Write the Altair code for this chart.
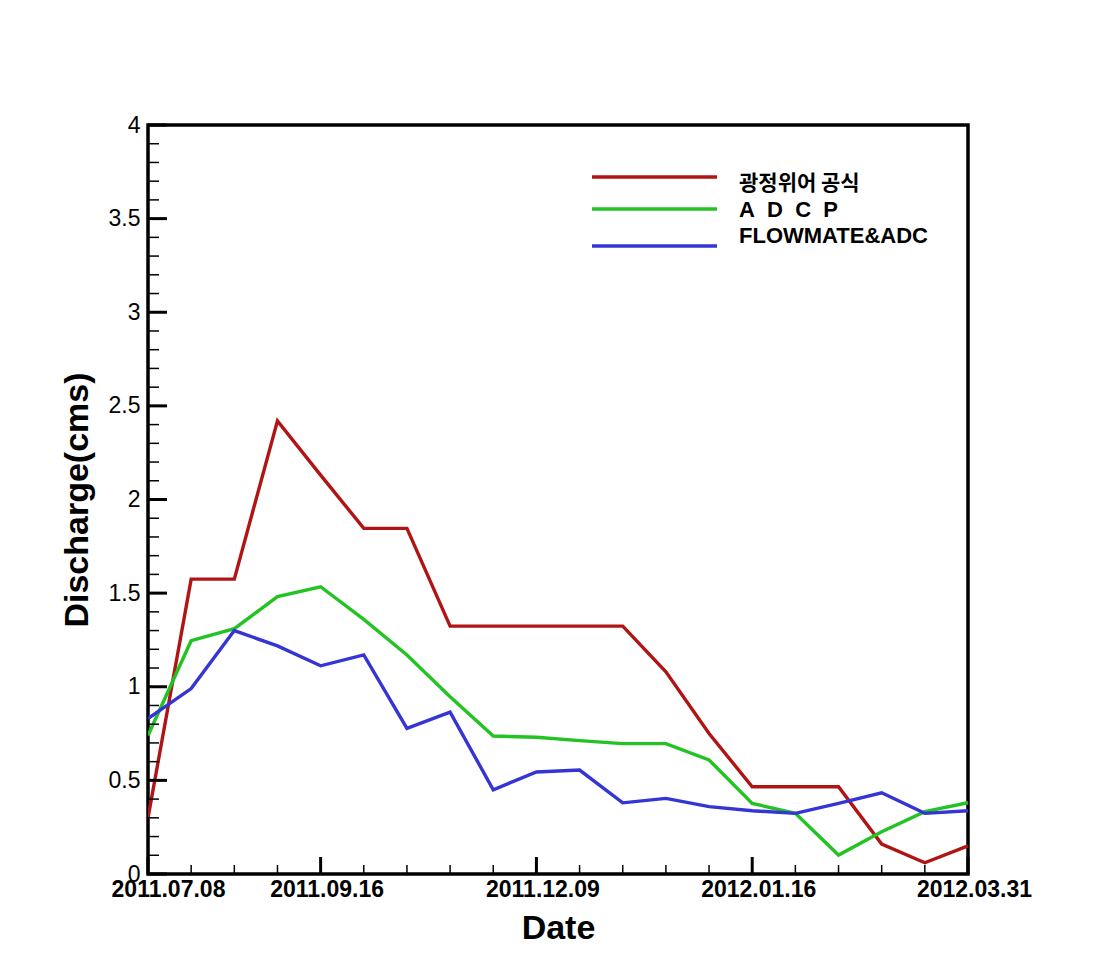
import altair as alt
import pandas as pd
import numpy as np

# ---- data ----
idx = list(range(20))
red = [0.30, 1.575, 1.575, 2.42, 2.13, 1.846, 1.846, 1.324, 1.324, 1.324, 1.324, 1.324,
       1.08, 0.75, 0.466, 0.466, 0.466, 0.16, 0.06, 0.15]
green = [0.74, 1.246, 1.31, 1.481, 1.534, 1.36, 1.17, 0.947, 0.737, 0.73, 0.712, 0.696,
         0.696, 0.609, 0.377, 0.324, 0.101, 0.226, 0.333, 0.381]
blue = [0.83, 0.99, 1.30, 1.218, 1.112, 1.17, 0.778, 0.864, 0.45, 0.545, 0.555, 0.38,
        0.404, 0.36, 0.338, 0.324, 0.377, 0.434, 0.324, 0.338]
series_names = ["광정위어 공식", "A\u00a0\u00a0D\u00a0\u00a0C\u00a0\u00a0P", "FLOWMATE&ADC"]
series_colors = ["#B01414", "#22C322", "#3535D5"]

x_major = [0, 4, 9, 14, 19]
x_labels = ["2011.07.08", "2011.09.16", "2011.12.09", "2012.01.16", "2012.03.31"]
x_minor = [i for i in idx if i not in x_major]
y_major = [round(v, 1) for v in np.arange(0, 4.01, 0.5)]
y_minor = [round(v, 1) for v in np.arange(0.1, 4.0, 0.1) if round(v * 10) % 5 != 0]

W, H = 820, 749
FONT = "Liberation Sans"

df = pd.DataFrame({
    "i": idx * 3,
    "v": red + green + blue,
    "s": [series_names[0]] * 20 + [series_names[1]] * 20 + [series_names[2]] * 20,
})

label_map = "{" + ", ".join(f"'{k}': '{l}'" for k, l in zip(x_major, x_labels)) + "}"

xscale = alt.Scale(domain=[0, 19], nice=False, zero=False)
yscale = alt.Scale(domain=[0, 4], nice=False)

lines = alt.Chart(df).mark_line(strokeWidth=3.4, clip=True).encode(
    x=alt.X("i:Q", scale=xscale, title="Date",
            axis=alt.Axis(values=x_major, labelExpr=f"{label_map}[datum.value]",
                          ticks=False, domain=False, grid=False, labelFont=FONT,
                          labelFontWeight="bold", labelFontSize=23, labelColor="black",
                          labelPadding=4, labelFlush=False, labelOverlap=False,
                          labelOffset=alt.ConditionalAxisNumber(
                              condition={"test": "datum.value == 0", "value": 20}, value=6),
                          titleFont=FONT, titleFontSize=34, titleFontWeight="bold",
                          titleColor="black", titlePadding=10)),
    y=alt.Y("v:Q", scale=yscale, title="Discharge(cms)",
            axis=alt.Axis(values=y_major, format="~g", ticks=False, domain=False, grid=False,
                          labelFont=FONT, labelFontSize=23, labelColor="black",
                          labelPadding=8, labelOverlap=False,
                          titleFont=FONT, titleFontSize=34, titleFontWeight="bold",
                          titleColor="black", titlePadding=14)),
    color=alt.Color("s:N", scale=alt.Scale(domain=series_names, range=series_colors),
                    legend=None),
    detail="s:N",
)

ymaj = alt.Chart(pd.DataFrame({"t": y_major})).mark_rule(color="black", strokeWidth=3).encode(
    y=alt.Y("t:Q", scale=yscale), x=alt.value(0), x2=alt.value(19))
ymin = alt.Chart(pd.DataFrame({"t": y_minor})).mark_rule(color="black", strokeWidth=1.5).encode(
    y=alt.Y("t:Q", scale=yscale), x=alt.value(0), x2=alt.value(11))
xmaj = alt.Chart(pd.DataFrame({"t": x_major})).mark_rule(color="black", strokeWidth=3).encode(
    x=alt.X("t:Q", scale=xscale), y=alt.value(H), y2=alt.value(H - 17))
xmin = alt.Chart(pd.DataFrame({"t": x_minor})).mark_rule(color="black", strokeWidth=1.5).encode(
    x=alt.X("t:Q", scale=xscale), y=alt.value(H), y2=alt.value(H - 9))

# legend (manual)
leg_y_line = [52, 84, 121]
leg_y_text = [59, 85, 111]
leg_sizes = [21, 22, 22]
legend_layers = []
one = pd.DataFrame({"a": [0]})
for k in range(3):
    legend_layers.append(
        alt.Chart(one).mark_rule(color=series_colors[k], strokeWidth=3.4).encode(
            x=alt.value(444), x2=alt.value(569), y=alt.value(leg_y_line[k])))
    legend_layers.append(
        alt.Chart(one).mark_text(
            text=series_names[k], align="left", baseline="middle",
            font="Noto Sans CJK KR" if k == 0 else FONT, fontWeight="bold",
            fontSize=leg_sizes[k], color="black").encode(
            x=alt.value(591), y=alt.value(leg_y_text[k])))

chart = alt.layer(lines, ymaj, ymin, xmaj, xmin, *legend_layers).properties(
    width=W, height=H,
    autosize=alt.AutoSizeParams(type="none"),
    padding={"left": 148, "top": 125, "right": 129, "bottom": 105},
    background="white",
).configure_view(stroke="black", strokeWidth=3.5)

chart.save("out.html", embed_options={"renderer": "svg", "actions": False})
